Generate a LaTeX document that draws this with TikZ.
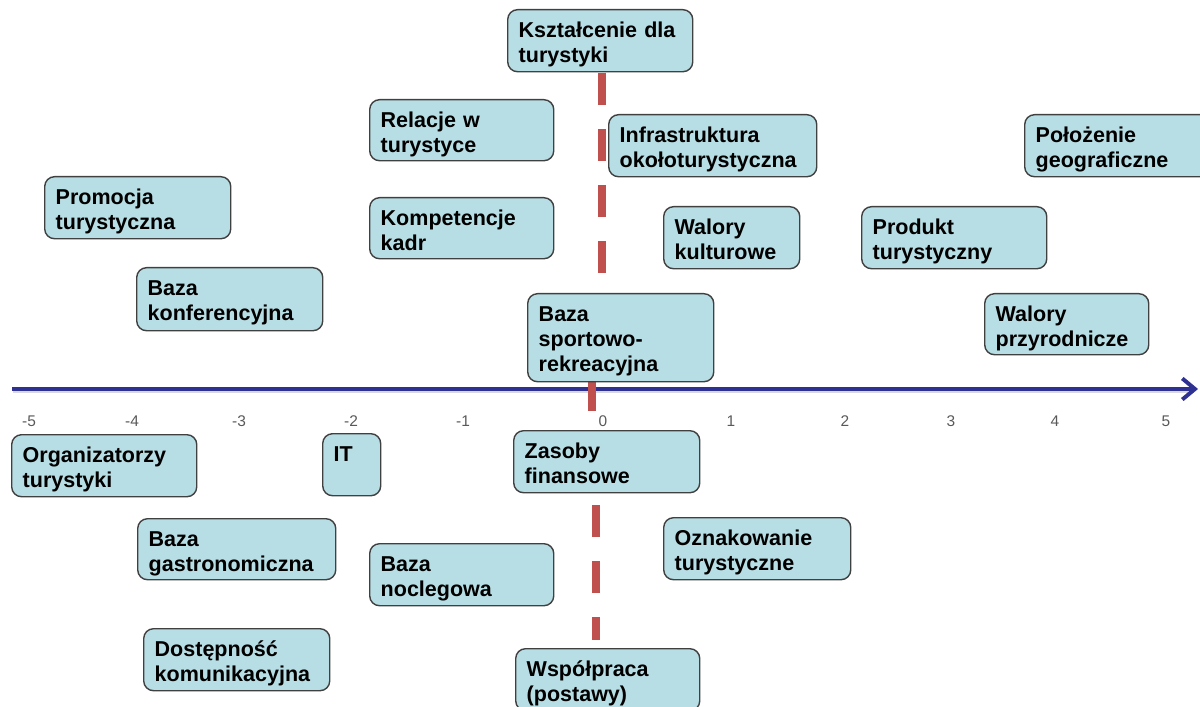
\documentclass[tikz,border=0pt]{standalone}
\usepackage{fontspec}
\setmainfont{Liberation Sans}
\usetikzlibrary{arrows.meta}

\definecolor{boxfill}{RGB}{183,222,228}
\definecolor{boxline}{RGB}{64,64,64}
\definecolor{axisblue}{RGB}{46,49,146}
\definecolor{dividerred}{RGB}{192,80,77}
\definecolor{tickgray}{RGB}{89,89,89}

\tikzset{
  factor/.style={draw=boxline, line width=1pt, fill=boxfill, rounded corners=7pt,
    anchor=north west, align=left, inner xsep=0.275cm, inner ysep=0pt,
    text width=4.075cm, text height=0.7cm, text depth=0.85cm,
    font=\fontsize{15.3}{17.8}\selectfont\bfseries},
  axis/.style={draw=axisblue, line width=2.8pt,
    -{Straight Barb[length=9pt,width=15pt]}},
  divider/.style={draw=dividerred, line width=5.3pt, dash pattern=on 22.8pt off 17.1pt},
  tick/.style={text=tickgray, font=\fontsize{11}{13}\selectfont}
}

\begin{document}
\begin{tikzpicture}[x=0.025cm, y=-0.025cm]
  \path[use as bounding box, clip] (0,0) rectangle (1200,707);

  % Axis
  \coordinate (axisstart) at (12,389);
  \coordinate (axisend) at (1198,389);
  \draw[gray!30, line width=2pt] (13,392) -- (1190,392);
  \draw[axis] (axisstart) -- (axisend);

  % Scale
  \foreach \lab/\x [count=\i] in {-5/29,-4/132,-3/239,-2/351,-1/463,0/603,1/731,2/845,3/951,4/1055,5/1166}
    \node[tick] (tick\i) at (\x,421) {\lab};

  % Dividing line
  \draw[divider] (602,73) -- (602,300);
  \draw[divider] (592,379) -- (592,411);
  \draw[divider] (596,505) -- (596,640);

  % Factors above the axis
  \node[factor] (ksztalcenie) at (507,9) {Kształcenie dla\\turystyki};
  \node[factor, text width=4.05cm, text depth=0.825cm] (relacje) at (369,99) {Relacje w\\turystyce};
  \node[factor, text width=4.65cm] (infrastruktura) at (608,114) {Infrastruktura\\okołoturystyczna};
  \node[factor] (polozenie) at (1024,114) {Położenie\\geograficzne};
  \node[factor, text width=4.1cm] (promocja) at (44,176) {Promocja\\turystyczna};
  \node[factor, text width=4.05cm, text depth=0.825cm] (kompetencje) at (369,197) {Kompetencje\\kadr};
  \node[factor, text width=2.85cm] (kulturowe) at (663,206) {Walory\\kulturowe};
  \node[factor] (produkt) at (861,206) {Produkt\\turystyczny};
  \node[factor, text width=4.1cm, text depth=0.875cm] (konferencyjna) at (136,267) {Baza\\konferencyjna};
  \node[factor, text width=4.1cm, text depth=1.5cm] (sportowa) at (527,293) {Baza\\sportowo-\\rekreacyjna};
  \node[factor, text width=3.55cm, text depth=0.825cm] (przyrodnicze) at (984,293) {Walory\\przyrodnicze};

  % Factors below the axis
  \node[factor] (organizatorzy) at (11,434) {Organizatorzy\\turystyki};
  \node[factor, text width=0.9cm] (it) at (322,433) {IT};
  \node[factor, text width=4.1cm] (finanse) at (513,430) {Zasoby\\finansowe};
  \node[factor, text width=4.4cm, text depth=0.825cm] (gastronomia) at (137,518) {Baza\\gastronomiczna};
  \node[factor, text width=4.05cm] (noclegi) at (369,543) {Baza\\noclegowa};
  \node[factor, text width=4.125cm] (oznakowanie) at (663,517) {Oznakowanie\\turystyczne};
  \node[factor, text width=4.1cm] (dostepnosc) at (143,628) {Dostępność\\komunikacyjna};
  \node[factor, text width=4.05cm] (wspolpraca) at (515,648) {Współpraca\\(postawy)};
\end{tikzpicture}
\end{document}
